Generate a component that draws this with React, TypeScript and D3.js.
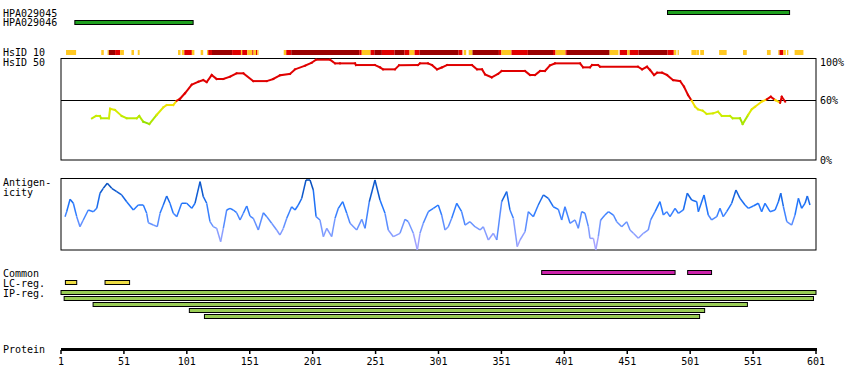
import * as d3 from 'd3';
import React from 'react';

// antibody epitopes [start, end]
const hpaNames = ['HPA029045', 'HPA029046'];
const hpaRanges = [[483, 580], [12, 106]];

// HsID 10 strip: [start, end, level] level 0 = yellow, 1 = red, 2 = dark red
const hs10Segments = [
  [5, 13, 0], [33, 35, 0], [38, 39, 0], [39, 44, 2], [44, 48, 1], [48, 51, 0], [57, 59, 0], [62, 63.5, 0],
  [94, 96, 0], [97, 99, 0], [99, 105, 1], [105, 107, 0], [112, 114, 0], [117, 118, 0], [118, 121, 1],
  [121, 137, 2], [137, 144, 1], [144, 145, 0], [145, 149, 1], [149, 153, 0], [153, 154, 1], [154, 156, 0],
  [156, 157, 1], [157, 158, 0], [178, 180, 0], [180, 184, 1], [184, 238, 2], [238, 240, 1], [240, 247, 0],
  [247, 250, 1], [250, 256, 2], [256, 266, 1], [266, 274, 2], [274, 278, 1], [278, 282, 0], [282, 286, 1],
  [286, 317, 2], [317, 320, 1], [321, 323, 0], [325, 328, 0], [328, 349, 2], [349, 351, 1], [351, 359, 0],
  [359, 372, 1], [372, 392, 2], [392, 394, 1], [394, 402, 0], [402, 403, 1], [403, 437, 2], [437, 444, 0],
  [445, 451, 1], [451, 453, 0], [453, 460, 1], [460, 483, 2], [483, 488, 1], [488, 490, 0], [491, 492, 0],
  [502, 506, 0], [506, 508, 0], [509, 512, 0], [524, 530, 0], [543, 546, 0], [562, 565, 0], [571, 572, 0],
  [572, 575, 1], [575, 577, 0], [578, 579, 0], [584, 591, 0],
];
const hs10Colors = ['#ffc822', '#e00000', '#9a0000'];

// HsID 50 identity (%)
const hs50Res = [25.6, 28.8, 32, 32.8, 39.1, 40, 43.9, 49.2, 53.2, 61.2, 63.2, 66.4, 71.2, 77, 82.3, 85, 90.2, 93,
  95.6, 99.5, 104.9, 110.1, 114.1, 116.8, 120.8, 124.7, 130, 135.3, 140.6, 145.9, 153.8, 164.5, 169.7, 175, 183,
  187, 194.9, 200.2, 203.7, 214.8, 218.8, 222.7, 234.7, 235.4, 250.5, 254.5, 256.9, 266.4, 269.6, 284.7, 286.3,
  292.7, 295.8, 299.8, 303.8, 307.8, 327.6, 331.6, 335.6, 338, 343.3, 348.3, 351.2, 369.8, 373.7, 377.7, 381.7,
  385.6, 389.6, 393.6, 413.5, 415.9, 421.4, 423, 427.8, 429.4, 459.6, 462.8, 466.7, 469.1, 472.3, 474.7, 478.7,
  482.6, 487.4, 493, 496.1, 499.3, 502.2, 504.9, 507.2, 511, 514.1, 519.2, 523.1, 526.1, 532.7, 534.8, 540.6,
  542.7, 547, 549.9, 552.6, 557.9, 561.9, 565.1, 568.5, 572.5, 573.8, 576.5];
const hs50Val = [42.6, 44.8, 44.8, 42.6, 42.6, 51.7, 50.5, 44.8, 42.6, 42.6, 44.8, 39.3, 37.1, 45.7, 53, 55.2, 55.2,
  59.3, 61.2, 66.4, 74.6, 77.4, 79, 77.1, 83.8, 80, 80, 82.2, 85.4, 85.4, 78, 78, 80, 83.5, 84.8, 89.2, 92.7, 95.5,
  98.4, 98.4, 94.9, 94.9, 94.9, 93.3, 93.3, 91.1, 89.2, 89.2, 93, 93.3, 94.9, 94.9, 93.3, 89.2, 91.1, 93.3, 93.3,
  89.2, 89.2, 84.4, 81.6, 84.8, 87.6, 87.6, 83.8, 83.8, 87.6, 87.6, 93, 94.9, 94.9, 91.1, 91.1, 93.3, 93.3, 91.7,
  91.7, 89.2, 91.7, 88.6, 83.8, 86, 86, 83.8, 79, 78, 72.7, 64.8, 59.3, 53.6, 51.1, 49.8, 46.7, 47.3, 48.9, 44.8,
  44.8, 42.6, 42.6, 37.1, 45.7, 51.1, 53.6, 58.4, 60.7, 63.1, 60, 57.4, 63.1, 58.4];

// antigenicity
const antiRes = [4.2, 5.5, 8.2, 10.8, 13.5, 16.1, 18.7, 22.7, 26.7, 29.4, 32, 34.6, 37.8, 41.3, 45.3, 49.2, 53.2,
  58.5, 62.4, 66.4, 69.1, 70.4, 74.4, 77.5, 79.7, 82.3, 85, 87.6, 90.2, 93, 96.9, 100.9, 104.9, 107.5, 111.5,
  114.1, 116.8, 119.4, 122, 124.7, 127.9, 130, 132.7, 135.3, 137.9, 140.6, 143.3, 145.9, 148.6, 151.2, 153.8,
  157.8, 161.8, 164.5, 168.4, 172.4, 175, 177.7, 180.4, 184.3, 187, 189.6, 192.3, 195.7, 198.9, 201.5, 203.7,
  206.8, 209.5, 212.2, 216.1, 218.8, 221.4, 224.9, 228.1, 230.7, 236, 240, 242.6, 246, 250.5, 254.5, 258.5,
  261.1, 265.1, 270.4, 274.4, 277, 281, 284.2, 286.3, 288.9, 292.9, 296.9, 300.8, 303.5, 306.2, 308.8, 311.5,
  315.5, 319.4, 322.1, 326, 330, 334, 336.6, 340.6, 344.6, 347.3, 351.2, 355.2, 357.8, 360.5, 363.6, 365.8,
  369.8, 372.4, 376.4, 380.3, 384.3, 388.3, 392.2, 396.2, 398.9, 401.5, 405.5, 409.5, 412.1, 414.8, 417.4,
  420.1, 421.4, 424.1, 426, 428, 429.9, 433.3, 436, 440, 442.6, 446.6, 450.6, 453.2, 455.9, 459.8, 463.8,
  467.7, 469.6, 473.1, 477, 479.7, 482.4, 485, 489, 491.6, 495.6, 498.7, 502.2, 506.2, 507.5, 512, 515.4,
  518.1, 522.1, 524.7, 527.3, 530, 534, 537.4, 540.6, 544.6, 547.2, 551.2, 555.2, 557.8, 560.5, 564.5, 568.5,
  571.1, 573, 575.1, 577.8, 581.7, 584.3, 587, 589.6, 592.3, 594.1, 596.2];
const antiVal = [46.3, 53.2, 70.4, 64.9, 46.3, 32.4, 41.7, 55.6, 53.2, 57.9, 78.8, 85.7, 92.6, 85.7, 81, 76.4, 67.1,
  55.6, 62.5, 62.5, 51, 37.9, 34.7, 32.4, 51, 62.5, 75, 64.9, 51, 46.3, 64.9, 64.9, 57.9, 64.9, 94.9, 74, 64.9,
  39.3, 32.4, 30.1, 11.5, 30.1, 55.6, 57.9, 55.6, 51.8, 41.7, 51, 61.1, 47.2, 44, 27.8, 51.8, 46.3, 37.1, 27.8,
  20.8, 30.1, 44, 60.1, 55.6, 62.5, 71.8, 97.2, 97.2, 83.3, 46.3, 41.7, 18.5, 30.1, 18.5, 44, 57.9, 67.1, 51,
  37.1, 27.8, 42.6, 30.1, 67.1, 97.2, 69.4, 51, 27.8, 18.5, 23.2, 42.6, 39.3, 23.2, 0, 23.2, 37.1, 53.2, 57.9,
  62.5, 48.6, 27.8, 32.4, 44, 64.9, 53.2, 34.7, 39.3, 32.4, 27.8, 32.4, 13.9, 23.2, 13.9, 67.1, 81, 55.6, 44,
  4.6, 13.9, 25.4, 53.2, 46.3, 62.5, 76.4, 71.8, 60.1, 56.5, 41.7, 60.1, 37.1, 41.7, 30.1, 53.2, 51, 32.4, 16.2,
  16.2, 0, 18.5, 41.7, 48.6, 53.2, 48.6, 39.3, 32.4, 39.3, 27.8, 23.2, 16.2, 23.2, 27.8, 41.7, 53.2, 67.1, 48.6,
  53.2, 46.3, 57.9, 51, 55.6, 78.8, 69.4, 67.1, 53.2, 76.4, 48.6, 41.7, 46.3, 57.9, 46.3, 53.2, 64.9, 83.3, 71.8,
  62.5, 57.9, 61.1, 64.9, 53.2, 64.9, 53.2, 55.6, 67.1, 78.8, 60.1, 39.3, 34.7, 48.6, 71.8, 57.9, 64.9, 75, 62.5];

const commonRanges = [[383, 489], [499, 518]];
const lcRanges = [[4.5, 13.5], [36, 55.5]];
const ipRanges = [[1, 601], [3.5, 599], [26.5, 546.5], [103, 512.5], [115, 508.5]];
const axisTicks = d3.range(1, 602, 50);

const font = { fontFamily: '"DejaVu Sans Mono", monospace', fontSize: 10 };

export default function App() {
  const x = d3.scaleLinear().domain([1, 601]).range([61, 816]);
  const y50 = d3.scaleLinear().domain([0, 100]).range([163, 58]);
  const yAnti = d3.scaleLinear().domain([0, 100]).range([250, 178]);
  const lowColor = d3.scaleLinear<string>().domain([37, 45, 60]).range(['#88dd00', '#ccee00', '#ffdd00']);
  const antiColor = d3.scaleLinear<string>().domain([0, 30, 60, 100])
    .range(['#b8a8ff', '#7799ff', '#2277ff', '#0044aa']);

  const left = x(1), right = x(601);

  const hs50Segs = hs50Res.slice(1).map((r, i) => {
    const a = hs50Val[i], b = hs50Val[i + 1];
    const m = (a + b) / 2;
    return { x1: x(hs50Res[i]), y1: y50(a), x2: x(r), y2: y50(b), c: m >= 60 ? '#e00000' : lowColor(m) };
  });
  const antiSegs = antiRes.slice(1).map((r, i) => {
    const a = antiVal[i], b = antiVal[i + 1];
    return { x1: x(antiRes[i]), y1: yAnti(a), x2: x(r), y2: yAnti(b), c: antiColor((a + b) / 2) };
  });

  const bar = (r: number[], yTop: number, fill: string, key: string) => (
    <rect key={key} x={x(r[0])} y={yTop} width={x(r[1]) - x(r[0])} height={4}
      fill={fill} stroke="#000" strokeWidth={1} />
  );

  return (
    <div style={{ position: 'absolute', left: 0, top: 0 }}>
      <svg width={850} height={390} style={{ display: 'block', background: '#fff' }}>
        <g style={font} fill="#000">
          <text x={3} y={17}>{hpaNames[0]}</text>
          <text x={3} y={26}>{hpaNames[1]}</text>
          <text x={3} y={56}>HsID 10</text>
          <text x={3} y={66}>HsID 50</text>
          <text x={3} y={186}>Antigen-</text>
          <text x={3} y={196}>icity</text>
          <text x={3} y={277}>Common</text>
          <text x={3} y={287}>LC-reg.</text>
          <text x={3} y={297}>IP-reg.</text>
          <text x={3} y={353}>Protein</text>
          <text x={820} y={66}>100%</text>
          <text x={820} y={104}>60%</text>
          <text x={820} y={164}>0%</text>
        </g>

        {/* epitopes */}
        {hpaRanges.map((r, i) => bar(r, 10.5 + i * 10, '#1ea01e', 'h' + i))}

        {/* HsID 10 strip */}
        {hs10Segments.map((s, i) => (
          <rect key={'s' + i} x={x(s[0])} y={50} width={x(s[1]) - x(s[0])} height={5} fill={hs10Colors[s[2]]} />
        ))}

        {/* HsID 50 panel */}
        <rect x={left} y={58.5} width={right - left} height={101.5} fill="none" stroke="#000" />
        <line x1={left} x2={right} y1={Math.round(y50(60)) + 0.5} y2={Math.round(y50(60)) + 0.5} stroke="#000" />
        {hs50Segs.map((s, i) => (
          <line key={'l' + i} {...s} stroke={s.c} strokeWidth={2} strokeLinecap="square" />
        ))}

        {/* antigenicity panel */}
        <rect x={left} y={178.5} width={right - left} height={71.5} fill="none" stroke="#000" />
        {antiSegs.map((s, i) => (
          <line key={'a' + i} {...s} stroke={s.c} strokeWidth={1.5} />
        ))}

        {/* regions */}
        {commonRanges.map((r, i) => bar(r, 270.5, '#cc22aa', 'c' + i))}
        {lcRanges.map((r, i) => bar(r, 280.5, '#eedd44', 'lc' + i))}
        {ipRanges.map((r, i) => bar(r, 290.5 + i * 6, '#99cc55', 'ip' + i))}

        {/* protein axis */}
        <rect x={left} y={348} width={right - left + 1} height={3} fill="#000" />
        {axisTicks.map((t) => (
          <g key={'t' + t}>
            <line x1={x(t)} x2={x(t)} y1={350} y2={354} stroke="#000" strokeWidth={1.5} />
            <text x={x(t)} y={365} textAnchor="middle" style={font}>{t}</text>
          </g>
        ))}
      </svg>
    </div>
  );
}
